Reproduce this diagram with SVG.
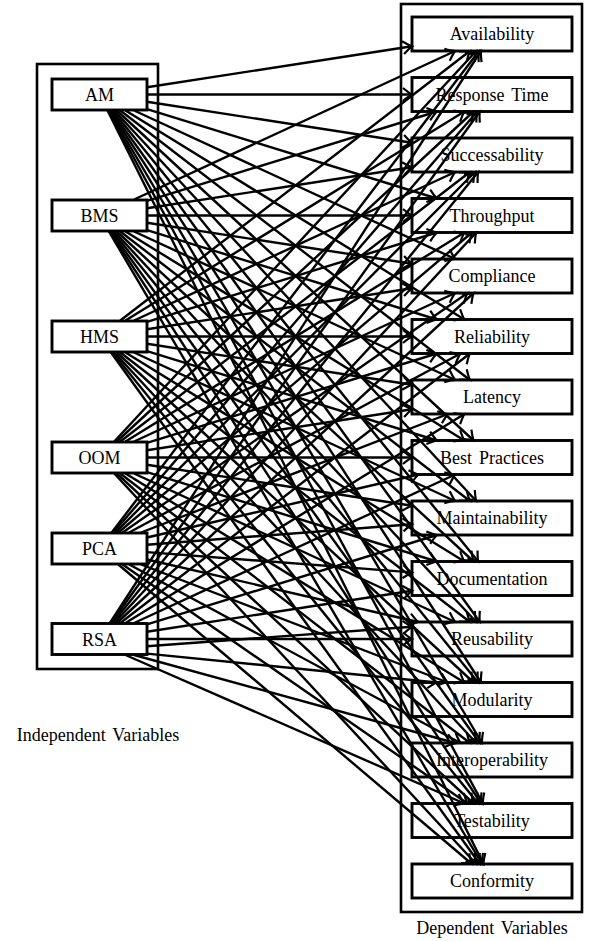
<svg xmlns="http://www.w3.org/2000/svg" width="590" height="941" viewBox="0 0 590 941">
<style>
.frame{fill:none;stroke:#000;stroke-width:2.6}
.box{fill:#fff;stroke:#000;stroke-width:2.9}
.t{font-family:"Liberation Serif","Times New Roman",serif;font-size:18px;fill:#000;text-anchor:middle;word-spacing:2.5px}
.e line{stroke:#000;stroke-width:2.4;fill:none;marker-end:url(#ah)}
</style>
<defs>
<marker id="ah" markerUnits="userSpaceOnUse" markerWidth="16" markerHeight="16" viewBox="-11 -8 13 16" refX="0" refY="0" orient="auto">
<path d="M-9,-6.5 Q-3,-1.5 0,0 Q-3,1.5 -9,6.5" fill="none" stroke="#000" stroke-width="2.2"/>
</marker>
</defs>
<g id="independent-frame"><rect class="frame" x="37" y="64" width="121" height="605"/><text class="t" x="98" y="741">Independent Variables</text></g>
<g id="dependent-frame"><rect class="frame" x="401" y="4" width="181" height="908"/><text class="t" x="492" y="934">Dependent Variables</text></g>
<g id="AM"><rect class="box" x="52" y="79" width="95" height="31"/><text class="t" x="99.5" y="101">AM</text></g>
<g id="BMS"><rect class="box" x="52" y="200" width="95" height="31"/><text class="t" x="99.5" y="222">BMS</text></g>
<g id="HMS"><rect class="box" x="52" y="321" width="95" height="31"/><text class="t" x="99.5" y="343">HMS</text></g>
<g id="OOM"><rect class="box" x="52" y="442" width="95" height="31"/><text class="t" x="99.5" y="464">OOM</text></g>
<g id="PCA"><rect class="box" x="52" y="533" width="95" height="31"/><text class="t" x="99.5" y="555">PCA</text></g>
<g id="RSA"><rect class="box" x="52" y="623.5" width="95" height="31"/><text class="t" x="99.5" y="645.5">RSA</text></g>
<g id="Availability"><rect class="box" x="412" y="17" width="160" height="34"/><text class="t" x="492" y="40">Availability</text></g>
<g id="ResponseTime"><rect class="box" x="412" y="77.5" width="160" height="34"/><text class="t" x="492" y="100.5">Response Time</text></g>
<g id="Successability"><rect class="box" x="412" y="138" width="160" height="34"/><text class="t" x="492" y="161">Successability</text></g>
<g id="Throughput"><rect class="box" x="412" y="198.5" width="160" height="34"/><text class="t" x="492" y="221.5">Throughput</text></g>
<g id="Compliance"><rect class="box" x="412" y="259" width="160" height="34"/><text class="t" x="492" y="282">Compliance</text></g>
<g id="Reliability"><rect class="box" x="412" y="319.5" width="160" height="34"/><text class="t" x="492" y="342.5">Reliability</text></g>
<g id="Latency"><rect class="box" x="412" y="380" width="160" height="34"/><text class="t" x="492" y="403">Latency</text></g>
<g id="BestPractices"><rect class="box" x="412" y="440.5" width="160" height="34"/><text class="t" x="492" y="463.5">Best Practices</text></g>
<g id="Maintainability"><rect class="box" x="412" y="501" width="160" height="34"/><text class="t" x="492" y="524">Maintainability</text></g>
<g id="Documentation"><rect class="box" x="412" y="561.5" width="160" height="34"/><text class="t" x="492" y="584.5">Documentation</text></g>
<g id="Reusability"><rect class="box" x="412" y="622" width="160" height="34"/><text class="t" x="492" y="645">Reusability</text></g>
<g id="Modularity"><rect class="box" x="412" y="682.5" width="160" height="34"/><text class="t" x="492" y="705.5">Modularity</text></g>
<g id="Interoperability"><rect class="box" x="412" y="743" width="160" height="34"/><text class="t" x="492" y="766">Interoperability</text></g>
<g id="Testability"><rect class="box" x="412" y="803.5" width="160" height="34"/><text class="t" x="492" y="826.5">Testability</text></g>
<g id="Conformity"><rect class="box" x="412" y="864" width="160" height="34"/><text class="t" x="492" y="887">Conformity</text></g>
<g id="connectors" class="e">
<line x1="147" y1="87.2" x2="412" y2="46.3"/>
<line x1="147" y1="94.5" x2="412" y2="94.5"/>
<line x1="147" y1="101.8" x2="412" y2="142.7"/>
<line x1="147" y1="109.1" x2="436.9" y2="198.5"/>
<line x1="134.1" y1="110.5" x2="455.2" y2="259"/>
<line x1="125.5" y1="110.5" x2="464.4" y2="319.5"/>
<line x1="120.3" y1="110.5" x2="469.9" y2="380"/>
<line x1="116.8" y1="110.5" x2="473.6" y2="440.5"/>
<line x1="114.3" y1="110.5" x2="476.2" y2="501"/>
<line x1="112.5" y1="110.5" x2="478.2" y2="561.5"/>
<line x1="111" y1="110.5" x2="479.8" y2="622"/>
<line x1="109.9" y1="110.5" x2="481" y2="682.5"/>
<line x1="108.9" y1="110.5" x2="482" y2="743"/>
<line x1="108.2" y1="110.5" x2="482.8" y2="803.5"/>
<line x1="107.5" y1="110.5" x2="483.5" y2="864"/>
<line x1="134.1" y1="199.5" x2="455.2" y2="51"/>
<line x1="147" y1="200.9" x2="436.9" y2="111.5"/>
<line x1="147" y1="208.2" x2="412" y2="167.3"/>
<line x1="147" y1="215.5" x2="412" y2="215.5"/>
<line x1="147" y1="222.8" x2="412" y2="263.7"/>
<line x1="147" y1="230.1" x2="436.9" y2="319.5"/>
<line x1="134.1" y1="231.5" x2="455.2" y2="380"/>
<line x1="125.5" y1="231.5" x2="464.4" y2="440.5"/>
<line x1="120.3" y1="231.5" x2="469.9" y2="501"/>
<line x1="116.8" y1="231.5" x2="473.6" y2="561.5"/>
<line x1="114.3" y1="231.5" x2="476.2" y2="622"/>
<line x1="112.5" y1="231.5" x2="478.2" y2="682.5"/>
<line x1="111" y1="231.5" x2="479.8" y2="743"/>
<line x1="109.9" y1="231.5" x2="481" y2="803.5"/>
<line x1="108.9" y1="231.5" x2="482" y2="864"/>
<line x1="120.3" y1="320.5" x2="469.9" y2="51"/>
<line x1="125.5" y1="320.5" x2="464.4" y2="111.5"/>
<line x1="134.1" y1="320.5" x2="455.2" y2="172"/>
<line x1="147" y1="321.9" x2="436.9" y2="232.5"/>
<line x1="147" y1="329.2" x2="412" y2="288.3"/>
<line x1="147" y1="336.5" x2="412" y2="336.5"/>
<line x1="147" y1="343.8" x2="412" y2="384.7"/>
<line x1="147" y1="351.1" x2="436.9" y2="440.5"/>
<line x1="134.1" y1="352.5" x2="455.2" y2="501"/>
<line x1="125.5" y1="352.5" x2="464.4" y2="561.5"/>
<line x1="120.3" y1="352.5" x2="469.9" y2="622"/>
<line x1="116.8" y1="352.5" x2="473.6" y2="682.5"/>
<line x1="114.3" y1="352.5" x2="476.2" y2="743"/>
<line x1="112.5" y1="352.5" x2="478.2" y2="803.5"/>
<line x1="111" y1="352.5" x2="479.8" y2="864"/>
<line x1="114.3" y1="441.5" x2="476.2" y2="51"/>
<line x1="116.8" y1="441.5" x2="473.6" y2="111.5"/>
<line x1="120.3" y1="441.5" x2="469.9" y2="172"/>
<line x1="125.5" y1="441.5" x2="464.4" y2="232.5"/>
<line x1="134.1" y1="441.5" x2="455.2" y2="293"/>
<line x1="147" y1="442.9" x2="436.9" y2="353.5"/>
<line x1="147" y1="450.2" x2="412" y2="409.3"/>
<line x1="147" y1="457.5" x2="412" y2="457.5"/>
<line x1="147" y1="464.8" x2="412" y2="505.7"/>
<line x1="147" y1="472.1" x2="436.9" y2="561.5"/>
<line x1="134.1" y1="473.5" x2="455.2" y2="622"/>
<line x1="125.5" y1="473.5" x2="464.4" y2="682.5"/>
<line x1="120.3" y1="473.5" x2="469.9" y2="743"/>
<line x1="116.8" y1="473.5" x2="473.6" y2="803.5"/>
<line x1="114.3" y1="473.5" x2="476.2" y2="864"/>
<line x1="111.7" y1="532.5" x2="479" y2="51"/>
<line x1="113.3" y1="532.5" x2="477.3" y2="111.5"/>
<line x1="115.5" y1="532.5" x2="475" y2="172"/>
<line x1="118.4" y1="532.5" x2="472" y2="232.5"/>
<line x1="122.6" y1="532.5" x2="467.5" y2="293"/>
<line x1="129.1" y1="532.5" x2="460.5" y2="353.5"/>
<line x1="141" y1="532.5" x2="448" y2="414"/>
<line x1="147" y1="537.5" x2="418.7" y2="474.5"/>
<line x1="147" y1="544.8" x2="412" y2="524.2"/>
<line x1="147" y1="552.1" x2="412" y2="572.4"/>
<line x1="147" y1="559.5" x2="418.3" y2="622"/>
<line x1="141.1" y1="564.5" x2="447.8" y2="682.5"/>
<line x1="129.2" y1="564.5" x2="460.5" y2="743"/>
<line x1="122.6" y1="564.5" x2="467.5" y2="803.5"/>
<line x1="118.4" y1="564.5" x2="471.9" y2="864"/>
<line x1="109.9" y1="623" x2="481" y2="51"/>
<line x1="111" y1="623" x2="479.8" y2="111.5"/>
<line x1="112.5" y1="623" x2="478.2" y2="172"/>
<line x1="114.3" y1="623" x2="476.2" y2="232.5"/>
<line x1="116.8" y1="623" x2="473.6" y2="293"/>
<line x1="120.3" y1="623" x2="469.9" y2="353.5"/>
<line x1="125.5" y1="623" x2="464.4" y2="414"/>
<line x1="134.1" y1="623" x2="455.2" y2="474.5"/>
<line x1="147" y1="624.4" x2="436.9" y2="535"/>
<line x1="147" y1="631.7" x2="412" y2="590.8"/>
<line x1="147" y1="639" x2="412" y2="639"/>
<line x1="147" y1="646.3" x2="412" y2="626.7"/>
<line x1="147" y1="653.6" x2="436.9" y2="682.5"/>
<line x1="134.1" y1="655" x2="455.2" y2="743"/>
<line x1="125.5" y1="655" x2="464.4" y2="803.5"/>
</g>
</svg>
